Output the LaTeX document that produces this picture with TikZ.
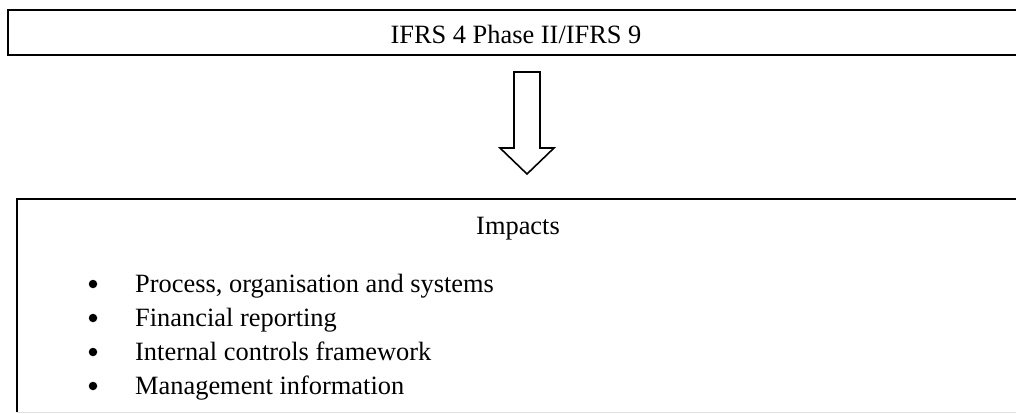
\documentclass[tikz,border=0pt]{standalone}
\usepackage{fontspec}
\setmainfont{Liberation Serif}
\usetikzlibrary{calc}
\tikzset{
  frame/.style={line width=2pt, draw=black},
  txt/.style={inner sep=0pt, anchor=base, font=\fontsize{26.4}{32}\selectfont},
  item/.style={txt, anchor=base west},
  dot/.style={fill=black, circle, inner sep=0pt, minimum size=8.5pt},
  blockarrow/.style={draw=black, line width=1.6pt, fill=white, line join=miter},
}
\begin{document}
\begin{tikzpicture}[x=1pt, y=-1pt]
  \useasboundingbox (0,0) rectangle (1016,414);
  \clip (0,0) rectangle (1016,414);

  % heading box (runs past the right margin)
  \node[frame, rectangle, minimum width=1030pt, minimum height=45pt, anchor=north west, inner sep=0pt]
    (head) at (7,9) {};
  \node[txt] (headtxt) at (516,44) {IFRS 4 Phase II/IFRS 9};

  % hollow block arrow pointing down
  \coordinate (atop) at (527,72);
  \draw[blockarrow]
    ($(atop)+(-13,0)$) -- ($(atop)+(13,0)$) -- ($(atop)+(13,76)$) -- ($(atop)+(27,76)$)
    -- ($(atop)+(0,102)$) coordinate (atip)
    -- ($(atop)+(-27,76)$) -- ($(atop)+(-13,76)$) -- cycle;

  % impacts box: left and top edges drawn in black, bottom edge faint
  \node[rectangle, minimum width=1030pt, minimum height=213pt, anchor=north west, inner sep=0pt]
    (box) at (17,199) {};
  \draw[frame] (box.south west) -- (box.north west) -- (box.north east);
  \draw[gray!25, line width=1.2pt] (box.south west) -- (box.south east);

  \node[txt] (title) at (518,234) {Impacts};

  \node[item] (i1) at (135,292) {Process, organisation and systems};
  \node[item] (i2) at (135,326) {Financial reporting};
  \node[item] (i3) at (135,360) {Internal controls framework};
  \node[item] (i4) at (135,394) {Management information};

  \node[dot] (b1) at (93,284) {};
  \node[dot] (b2) at (93,318) {};
  \node[dot] (b3) at (93,352) {};
  \node[dot] (b4) at (93,386) {};
\end{tikzpicture}
\end{document}
